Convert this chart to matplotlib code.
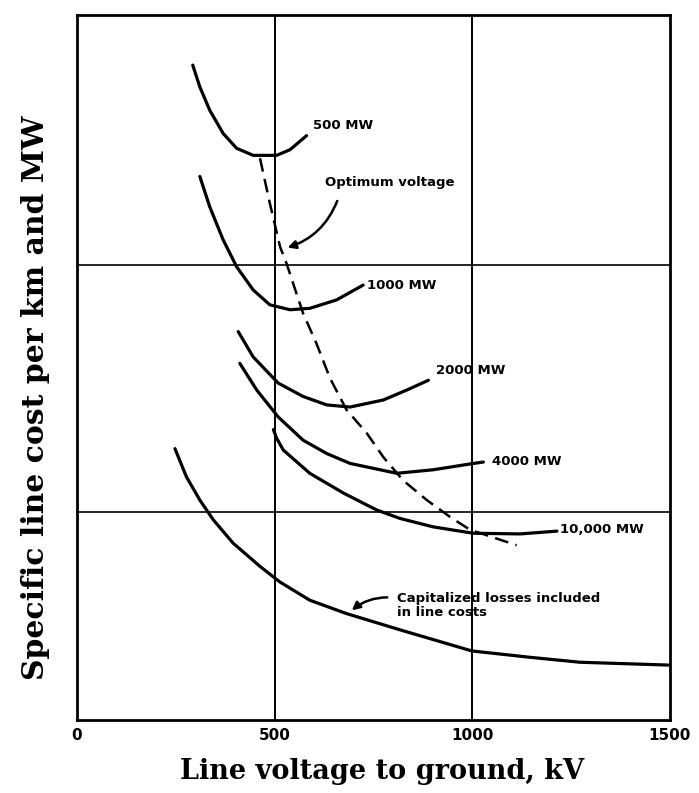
import numpy as np
import matplotlib
matplotlib.use("Agg")
import matplotlib.pyplot as plt

# curves (x in kV, y in relative cost units 0..100)
mw500_x = [293, 311, 336, 370, 404, 446, 505, 539, 581]
mw500_y = [92.9, 89.8, 86.5, 83.2, 81.1, 80.1, 80.1, 80.9, 82.9]

mw1000_x = [311, 336, 370, 404, 446, 488, 539, 589, 657, 724]
mw1000_y = [77.1, 72.8, 68.1, 64.3, 61.0, 58.9, 58.2, 58.4, 59.6, 61.7]

mw2000_x = [408, 446, 509, 572, 632, 691, 775, 834, 889]
mw2000_y = [55.1, 51.5, 47.8, 45.9, 44.7, 44.4, 45.4, 46.8, 48.2]

mw4000_x = [412, 455, 509, 572, 632, 691, 809, 901, 1003, 1028]
mw4000_y = [50.6, 46.8, 43.0, 39.7, 37.8, 36.4, 35.0, 35.5, 36.4, 36.6]

mw10000_x = [497, 505, 522, 589, 674, 758, 817, 901, 1002, 1121, 1214]
mw10000_y = [41.2, 40.0, 38.3, 35.0, 32.2, 29.8, 28.6, 27.4, 26.5, 26.4, 26.8]

cap_x = [248, 277, 311, 345, 395, 463, 513, 589, 682, 817, 999, 1146, 1272, 1495]
cap_y = [38.5, 34.5, 31.2, 28.4, 25.1, 21.8, 19.6, 17.0, 15.1, 12.8, 9.8, 8.9, 8.2, 7.8]

opt_x = [463, 488, 514, 530, 572, 606, 640, 682, 733, 775, 825, 885, 944, 994, 1112]
opt_y = [79.7, 73.3, 67.1, 64.8, 57.7, 53.4, 48.5, 44.0, 40.7, 37.3, 34.0, 31.2, 28.8, 27.0, 24.8]

xticks = [0, 500, 1000, 1500]
vgrid = [500, 1000]
hgrid = [29.5, 64.5]

fig = plt.figure(figsize=(6.99, 7.93), dpi=100)
ax = fig.add_axes([0.110, 0.092, 0.8485, 0.889])

lw = 2.3
for xs, ys in [(mw500_x, mw500_y), (mw1000_x, mw1000_y), (mw2000_x, mw2000_y),
               (mw4000_x, mw4000_y), (mw10000_x, mw10000_y), (cap_x, cap_y)]:
    ax.plot(xs, ys, color="black", lw=lw, solid_capstyle="round", solid_joinstyle="round")

ax.plot(opt_x, opt_y, color="black", lw=1.8, dashes=(5.5, 3))

for xv in vgrid:
    ax.axvline(xv, color="black", lw=1.4, zorder=0)
for yv in hgrid:
    ax.axhline(yv, color="black", lw=1.2, zorder=0)

ax.set_xlim(0, 1500)
ax.set_ylim(0, 100)
ax.set_xticks(xticks)
ax.set_xticklabels([str(t) for t in xticks], fontweight="bold", fontsize=11)
ax.set_yticks([])
ax.tick_params(axis="x", length=0, pad=6)
for sp in ax.spines.values():
    sp.set_linewidth(2.0)

lab = dict(fontsize=9.5, fontweight="bold", family="DejaVu Sans", va="center")
ax.text(597, 84.4, "500 MW", **lab)
ax.text(627, 76.3, "Optimum voltage", **lab)
ax.text(734, 61.7, "1000 MW", **lab)
ax.text(908, 49.6, "2000 MW", **lab)
ax.text(1050, 36.7, "4000 MW", **lab)
ax.text(1222, 27.0, "10,000 MW", **lab)
ax.text(810, 18.2, "Capitalized losses included\nin line costs", fontsize=9.5,
        fontweight="bold", va="top", linespacing=1.1)

# leader lines
ax.annotate("", xy=(526, 66.9), xytext=(661, 74.0),
            arrowprops=dict(arrowstyle="-|>", color="black", lw=1.8,
                            connectionstyle="arc3,rad=-0.25", mutation_scale=12))
ax.annotate("", xy=(690, 15.3), xytext=(792, 17.4),
            arrowprops=dict(arrowstyle="-|>", color="black", lw=1.8,
                            connectionstyle="arc3,rad=0.2", mutation_scale=12))

ax.set_xlabel("Line voltage to ground, kV", family="DejaVu Serif",
              fontweight="bold", fontsize=19.5)
ax.set_ylabel("Specific line cost per km and MW", family="DejaVu Serif",
              fontweight="bold", fontsize=21.5)
ax.xaxis.set_label_coords(0.515, -0.054)
ax.yaxis.set_label_coords(-0.045, 0.457)

fig.savefig("out.png", dpi=100)
